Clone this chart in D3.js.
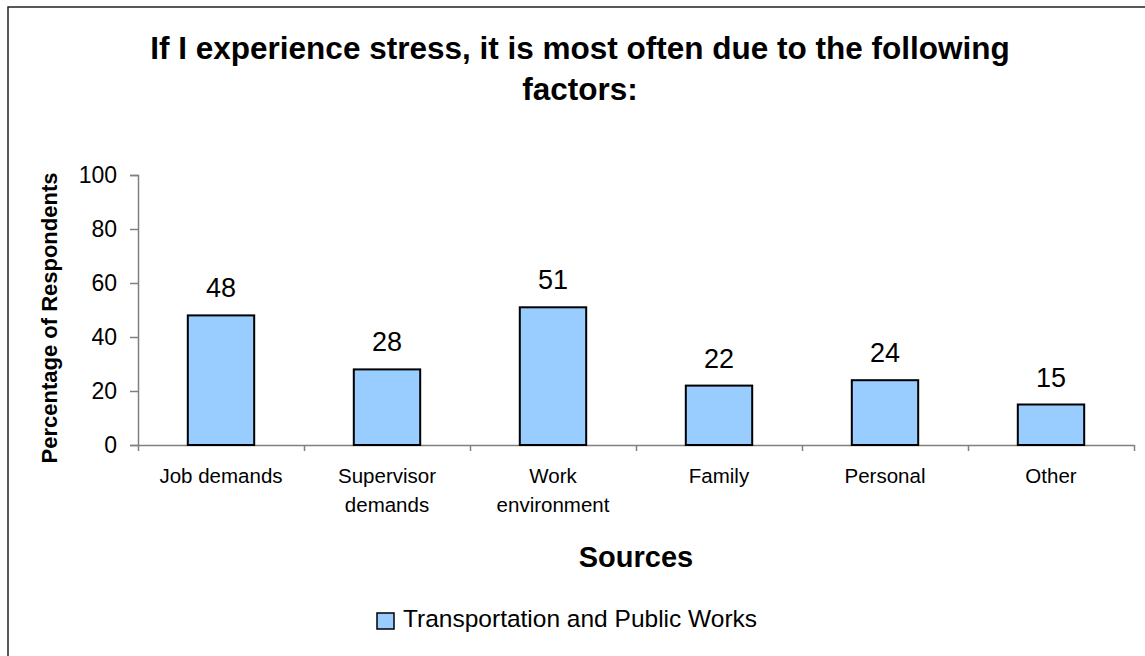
<!DOCTYPE html>
<html>
<head>
<meta charset="utf-8">
<script src="https://cdn.jsdelivr.net/npm/d3@7"></script>
<style>
    body { margin: 0; background: #fff; }
    text { font-family: "Liberation Sans", Arial, sans-serif; fill: #000; }
</style>
</head>
<body>
<div class="main"></div>
<script>
var categories = ['Job demands', 'Supervisor\ndemands', 'Work\nenvironment', 'Family', 'Personal', 'Other'];
var values = [48, 28, 51, 22, 24, 15];
var yTicks = [0, 20, 40, 60, 80, 100];
var titleLines = ['If I experience stress, it is most often due to the following', 'factors:'];
var seriesName = 'Transportation and Public Works';

var svg = d3.select('.main')
    .append('svg')
    .attr('width', 1145)
    .attr('height', 656);

// chart border (runs off the right and bottom of the picture)
svg.append('rect')
    .attr('x', 8)
    .attr('y', 7)
    .attr('width', 1144)
    .attr('height', 670)
    .style('fill', '#fff')
    .style('stroke', '#222')
    .style('stroke-width', '1.5px');

svg.selectAll('.title')
    .data(titleLines)
    .enter()
    .append('text')
    .attr('class', 'title')
    .attr('x', 580)
    .attr('y', function (d, i) { return 59 + i * 41; })
    .attr('text-anchor', 'middle')
    .style('font-size', '31.5px')
    .style('font-weight', 'bold')
    .text(function (d) { return d; });

var plotLeft = 138, plotRight = 1134, plotTop = 175, plotBottom = 445;

var y = d3.scaleLinear().domain([0, 100]).range([plotBottom, plotTop]);
var x = d3.scaleBand().domain(categories).range([plotLeft, plotRight])
    .paddingInner(0.6).paddingOuter(0.3);
var xEdges = d3.scaleLinear().domain([0, categories.length]).range([plotLeft, plotRight]);

// y axis
var yAxis = svg.append('g')
    .attr('transform', 'translate(' + [plotLeft, 0] + ')')
    .call(d3.axisLeft(y).tickValues(yTicks).tickSize(8).tickPadding(13));
yAxis.select('.domain').style('stroke', '#808080').style('stroke-width', '1.5px');
yAxis.selectAll('.tick line').style('stroke', '#808080').style('stroke-width', '1.5px');
yAxis.selectAll('.tick text')
    .style('font-size', '23px')
    .style('font-family', '"Liberation Sans", Arial, sans-serif')
    .style('fill', '#000');

// x axis: ticks between categories
var xAxis = svg.append('g')
    .attr('transform', 'translate(' + [0, plotBottom] + ')')
    .call(d3.axisBottom(xEdges).tickValues(d3.range(categories.length + 1)).tickSize(6).tickSizeOuter(0).tickFormat(''));
xAxis.select('.domain').style('stroke', '#808080').style('stroke-width', '1.5px');
xAxis.selectAll('.tick line').style('stroke', '#808080').style('stroke-width', '1.5px');

// bars
svg.selectAll('.bar')
    .data(values)
    .enter()
    .append('rect')
    .attr('class', 'bar')
    .attr('x', function (d, i) { return x(categories[i]); })
    .attr('y', function (d) { return y(d); })
    .attr('width', x.bandwidth())
    .attr('height', function (d) { return plotBottom - y(d); })
    .style('fill', '#99ccff')
    .style('stroke', '#000')
    .style('stroke-width', '2px');

svg.selectAll('.value')
    .data(values)
    .enter()
    .append('text')
    .attr('class', 'value')
    .attr('x', function (d, i) { return x(categories[i]) + x.bandwidth() / 2; })
    .attr('y', function (d) { return y(d) - 18; })
    .attr('text-anchor', 'middle')
    .style('font-size', '27px')
    .text(function (d) { return d; });

// category labels
var catLabels = svg.selectAll('.cat')
    .data(categories)
    .enter()
    .append('text')
    .attr('class', 'cat')
    .attr('text-anchor', 'middle')
    .style('font-size', '20.5px');

catLabels.selectAll('tspan')
    .data(function (d) {
        var cx = x(d) + x.bandwidth() / 2;
        return d.split('\n').map(function (s) { return { s: s, cx: cx }; });
    })
    .enter()
    .append('tspan')
    .attr('x', function (d) { return d.cx; })
    .attr('y', function (d, i) { return 483 + i * 29; })
    .text(function (d) { return d.s; });

// axis titles
svg.append('text')
    .attr('x', (plotLeft + plotRight) / 2)
    .attr('y', 567)
    .attr('text-anchor', 'middle')
    .style('font-size', '29px')
    .style('font-weight', 'bold')
    .text('Sources');

svg.append('text')
    .attr('transform', 'translate(' + [57, (plotTop + plotBottom) / 2 + 8] + ') rotate(-90)')
    .attr('text-anchor', 'middle')
    .style('font-size', '22px')
    .style('font-weight', 'bold')
    .text('Percentage of Respondents');

// legend
svg.append('rect')
    .attr('x', 377)
    .attr('y', 613)
    .attr('width', 17)
    .attr('height', 16)
    .style('fill', '#99ccff')
    .style('stroke', '#000')
    .style('stroke-width', '1.5px');

svg.append('text')
    .attr('x', 403)
    .attr('y', 627)
    .style('font-size', '24.5px')
    .text(seriesName);
</script>
</body>
</html>
